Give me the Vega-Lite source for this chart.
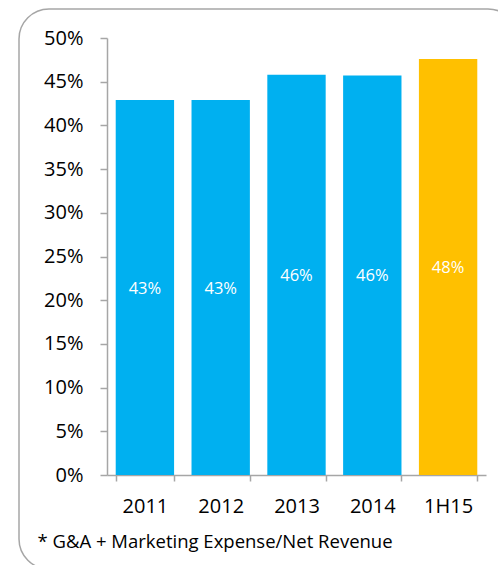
{
  "$schema": "https://vega.github.io/schema/vega-lite/v6.json",
  "usermeta": {"embedOptions": {"actions": false}},
  "width": 379,
  "height": 437,
  "autosize": {"type": "none"},
  "padding": {"left": 107, "top": 38, "right": 12, "bottom": 90},
  "background": "white",
  "data": {
    "values": [
      {"period": "2011", "value": 0.429},
      {"period": "2012", "value": 0.429},
      {"period": "2013", "value": 0.458},
      {"period": "2014", "value": 0.457},
      {"period": "1H15", "value": 0.476}
    ]
  },
  "config": {
    "view": {"stroke": null},
    "font": "Open Sans",
    "axis": {
      "domainColor": "#A6A6A6",
      "tickColor": "#A6A6A6",
      "domainWidth": 1.5,
      "tickWidth": 1.5,
      "grid": false,
      "labelFont": "Open Sans",
      "labelFontSize": 20,
      "labelColor": "#000000"
    }
  },
  "layer": [
    {
      "mark": {"type": "rect", "fill": null, "stroke": "#A6A6A6", "strokeWidth": 1.5, "cornerRadius": 30, "clip": false},
      "data": {"values": [{"frame": 1}]},
      "encoding": {
        "x": {"value": -88},
        "x2": {"value": 411},
        "y": {"value": -29},
        "y2": {"value": 531}
      }
    },
    {
      "mark": {"type": "bar"},
      "encoding": {
        "x": {
          "field": "period",
          "type": "nominal",
          "sort": null,
          "scale": {"paddingInner": 0.23, "paddingOuter": 0.115},
          "axis": {
            "title": "* G&A + Marketing Expense/Net Revenue",
            "titleX": -70,
            "titleY": 66,
            "titleAlign": "left",
            "titleBaseline": "middle",
            "titleFont": "Open Sans",
            "titleFontSize": 18.5,
            "titleFontWeight": "normal",
            "titleColor": "#000000",
            "labelAngle": 0,
            "tickBand": "extent",
            "tickSize": 6,
            "labelBaseline": "alphabetic",
            "labelPadding": 31
          }
        },
        "y": {
          "field": "value",
          "type": "quantitative",
          "scale": {"domain": [0, 0.5], "nice": false},
          "axis": {
            "title": null,
            "values": [0, 0.05, 0.1, 0.15, 0.2, 0.25, 0.3, 0.35, 0.4, 0.45, 0.5],
            "format": ".0%",
            "tickSize": 7,
            "labelPadding": 17,
            "labelBaseline": "middle"
          }
        },
        "color": {
          "field": "period",
          "type": "nominal",
          "scale": {"domain": ["2011", "2012", "2013", "2014", "1H15"], "range": ["#00B0F0", "#00B0F0", "#00B0F0", "#00B0F0", "#FFC000"]},
          "legend": null
        }
      }
    },
    {
      "mark": {"type": "text", "color": "#FFFFFF", "fontSize": 16.5, "font": "Open Sans", "baseline": "middle", "dy": 1},
      "transform": [{"calculate": "datum.value / 2", "as": "mid"}],
      "encoding": {
        "x": {"field": "period", "type": "nominal", "sort": null},
        "y": {"field": "mid", "type": "quantitative"},
        "text": {"field": "value", "type": "quantitative", "format": ".0%"}
      }
    }
  ]
}
